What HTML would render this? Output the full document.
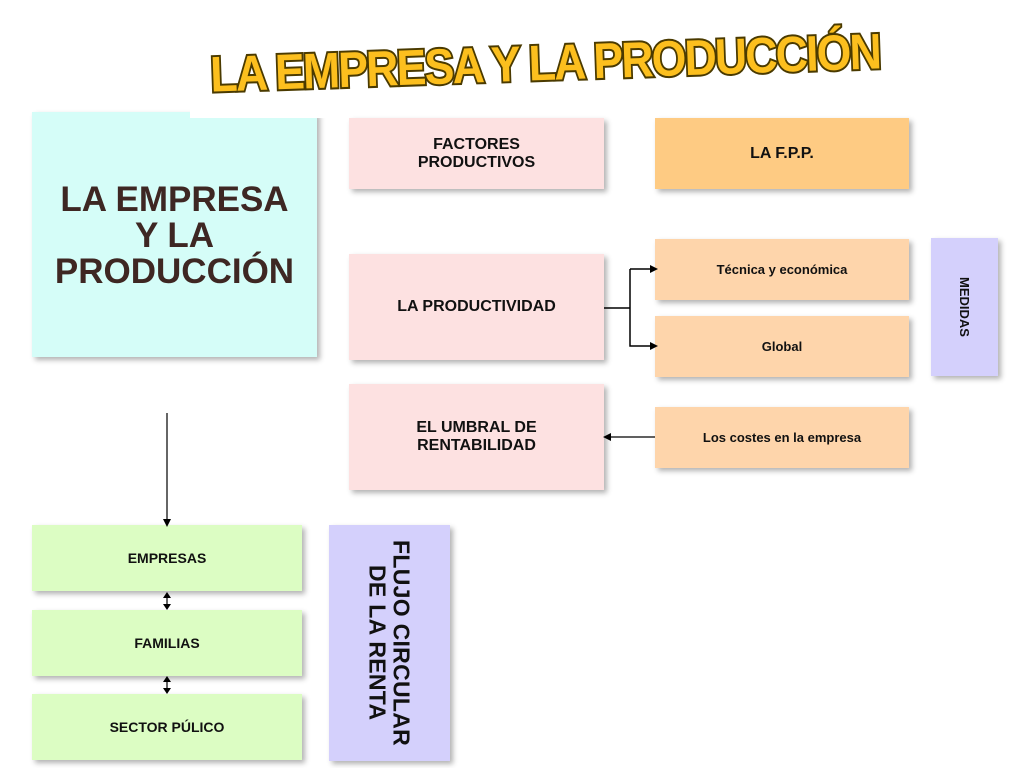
<!DOCTYPE html>
<html><head><meta charset="utf-8"><style>
body{margin:0;width:1024px;height:768px;background:#fff;position:relative;overflow:hidden;font-family:"Liberation Sans",Arial,sans-serif;font-weight:bold;color:#111}
.b{position:absolute;display:flex;align-items:center;justify-content:center;text-align:center;box-shadow:3px 3px 5px rgba(0,0,0,.3)}
.pink{background:#fde1e1;font-size:16px;line-height:18px}
.or{background:#fed5ab;font-size:13px}
.gr{background:#dcfdc3;font-size:14px}
.vt{writing-mode:vertical-rl}
</style></head><body>
<div class="b" style="left:32px;top:112px;width:285px;height:245px;background:#d5fdf8;color:#3e2723;font-size:35px;line-height:36px;padding-top:2px;box-sizing:border-box">LA EMPRESA<br>Y LA<br>PRODUCCIÓN</div>
<div style="position:absolute;left:190px;top:0;width:710px;height:118px;background:#fff"></div>
<svg style="position:absolute;left:0;top:0" width="1024" height="118">
<text x="545" y="80" text-anchor="middle" transform="rotate(-2 545 60)" font-family="Liberation Sans" font-weight="bold" font-size="50" letter-spacing="-2" fill="#fcbf1e" stroke="#4a3a00" stroke-width="4" paint-order="stroke" textLength="670" lengthAdjust="spacingAndGlyphs">LA EMPRESA Y LA PRODUCCIÓN</text>
</svg>
<div class="b pink" style="left:349px;top:118px;width:255px;height:71px">FACTORES<br>PRODUCTIVOS</div>
<div class="b" style="left:655px;top:118px;width:254px;height:71px;background:#fecb83;font-size:16px">LA F.P.P.</div>
<div class="b pink" style="left:349px;top:254px;width:255px;height:106px">LA PRODUCTIVIDAD</div>
<div class="b pink" style="left:349px;top:384px;width:255px;height:106px">EL UMBRAL DE<br>RENTABILIDAD</div>
<div class="b or" style="left:655px;top:239px;width:254px;height:61px">Técnica y económica</div>
<div class="b or" style="left:655px;top:316px;width:254px;height:61px">Global</div>
<div class="b or" style="left:655px;top:407px;width:254px;height:61px">Los costes en la empresa</div>
<div class="b vt" style="left:931px;top:238px;width:67px;height:138px;background:#d4d0fc;font-size:13px">MEDIDAS</div>
<div class="b gr" style="left:32px;top:525px;width:270px;height:66px">EMPRESAS</div>
<div class="b gr" style="left:32px;top:610px;width:270px;height:66px">FAMILIAS</div>
<div class="b gr" style="left:32px;top:694px;width:270px;height:66px">SECTOR PÚLICO</div>
<div class="b vt" style="left:329px;top:525px;width:121px;height:236px;background:#d4d0fc;font-size:23px;line-height:24px;letter-spacing:0.3px">FLUJO CIRCULAR<br>DE LA RENTA</div>
<svg style="position:absolute;left:0;top:0" width="1024" height="768">
<g stroke="#000" stroke-width="1.2" fill="none">
<line x1="167" y1="413" x2="167" y2="519"/>
<path d="M604 308H630M630 269V346H650M630 269H650" stroke-width="1.5"/>
<line x1="655" y1="437" x2="611" y2="437"/>
<line x1="167" y1="597" x2="167" y2="605"/>
<line x1="167" y1="681" x2="167" y2="689"/>
</g>
<g fill="#000">
<path d="M163 519h8l-4 8z"/>
<path d="M650 265v8l8-4z"/><path d="M650 342v8l8-4z"/>
<path d="M611 433v8l-8-4z"/>
<path d="M163 598h8l-4-6z M163 604h8l-4 6z"/>
<path d="M163 682h8l-4-6z M163 688h8l-4 6z"/>
</g>
</svg>
</body></html>
